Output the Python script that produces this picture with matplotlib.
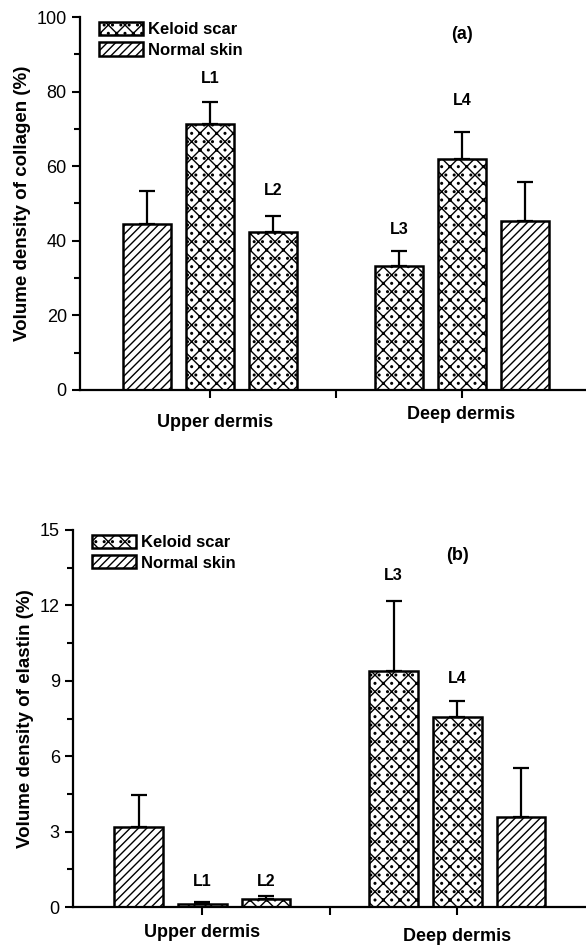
import matplotlib
matplotlib.use("Agg")
import matplotlib.pyplot as plt
from matplotlib.patches import Patch
import numpy as np

plt.rcParams['font.family'] = ['Liberation Sans', 'DejaVu Sans']
plt.rcParams['hatch.linewidth'] = 1.0

# bar order: Normal (upper), L1, L2, L3, L4, Normal (deep)
positions = [0, 1, 2, 4, 5, 6]
groups = ["normal", "keloid", "keloid", "keloid", "keloid", "normal"]
collagen = [44.5, 71.3, 42.3, 33.3, 61.9, 45.3]
collagen_err = [8.9, 5.9, 4.3, 4.0, 7.2, 10.5]
elastin = [3.2, 0.13, 0.3, 9.4, 7.56, 3.6]
elastin_err = [1.24, 0.07, 0.12, 2.78, 0.63, 1.93]
bar_labels = {1: "L1", 2: "L2", 4: "L3", 5: "L4"}
categories = ["Upper dermis", "Deep dermis"]

hatch = {"keloid": "xx..", "normal": "////"}

fig = plt.figure(figsize=(5.86, 9.46), dpi=100)
ax1 = fig.add_axes([80/586, 1-390/946, 505/586, 373/946])
ax2 = fig.add_axes([73/586, 1-907/946, 512/586, 377/946])


def draw_panel(ax, vals, errs, ylim, yticks, minor, ylabel, panel, panel_y,
               lab_y, cat_y, xlim):
  for p, v, e, g in zip(positions, vals, errs, groups):
    ax.bar(p, v, width=0.76, color="white", edgecolor="black", linewidth=1.8,
           hatch=hatch[g], zorder=2)
    ax.errorbar(p, v, yerr=[[0], [e]], fmt="none", ecolor="black",
                elinewidth=1.6, capsize=5.5, capthick=1.6, zorder=1)
  for p, t in bar_labels.items():
    ax.text(p, lab_y[t], t, ha="center", va="center", fontsize=11.5,
            fontweight="bold")
  ax.text(5, panel_y, panel, ha="center", va="center", fontsize=13,
          fontweight="bold")
  for (x, y), c in zip(cat_y, categories):
    ax.text(x, y, c, ha="center", va="center", fontsize=13, fontweight="bold",
            clip_on=False)
  ax.set_xlim(*xlim)
  ax.set_ylim(*ylim)
  ax.set_yticks(yticks)
  ax.set_yticks(minor, minor=True)
  ax.set_xticks([1, 3, 5])
  ax.set_xticklabels([])
  ax.tick_params(axis="y", direction="out", length=6, width=1.5, labelsize=13)
  ax.tick_params(axis="y", which="minor", direction="out", length=4, width=1.5)
  ax.tick_params(axis="x", direction="out", length=6, width=1.5)
  for s in ["top", "right"]:
    ax.spines[s].set_visible(False)
  for s in ["left", "bottom"]:
    ax.spines[s].set_linewidth(1.6)
  ax.set_ylabel(ylabel, fontsize=13.5, fontweight="bold", labelpad=4)
  handles = [Patch(facecolor="white", edgecolor="black", linewidth=1.8, hatch=hatch["keloid"]),
             Patch(facecolor="white", edgecolor="black", linewidth=1.8, hatch=hatch["normal"])]
  ax.legend(handles, ["Keloid scar", "Normal skin"], loc="upper left",
            bbox_to_anchor=(0.025, 1.005), frameon=False,
            prop={"weight": "bold", "size": 12}, handlelength=2.6,
            handleheight=0.85, handletextpad=0.3, labelspacing=0.3,
            borderaxespad=0.0)


draw_panel(ax1, collagen, collagen_err, (0, 100), np.arange(0, 101, 20),
           np.arange(10, 100, 20), "Volume density of collagen (%)", "(a)", 95.2,
           {"L1": 83.6, "L2": 53.6, "L3": 42.9, "L4": 77.7},
           [(1.08, -8.8), (4.98, -6.7)], (-1.06, 6.95))
draw_panel(ax2, elastin, elastin_err, (0, 15), np.arange(0, 16, 3),
           np.arange(1.5, 15, 3), "Volume density of elastin (%)", "(b)", 14.0,
           {"L1": 1.0, "L2": 1.0, "L3": 13.2, "L4": 9.1},
           [(1.0, -1.03), (5.0, -1.17)], (-1.03, 7.0))

fig.savefig("out.png", dpi=100)
